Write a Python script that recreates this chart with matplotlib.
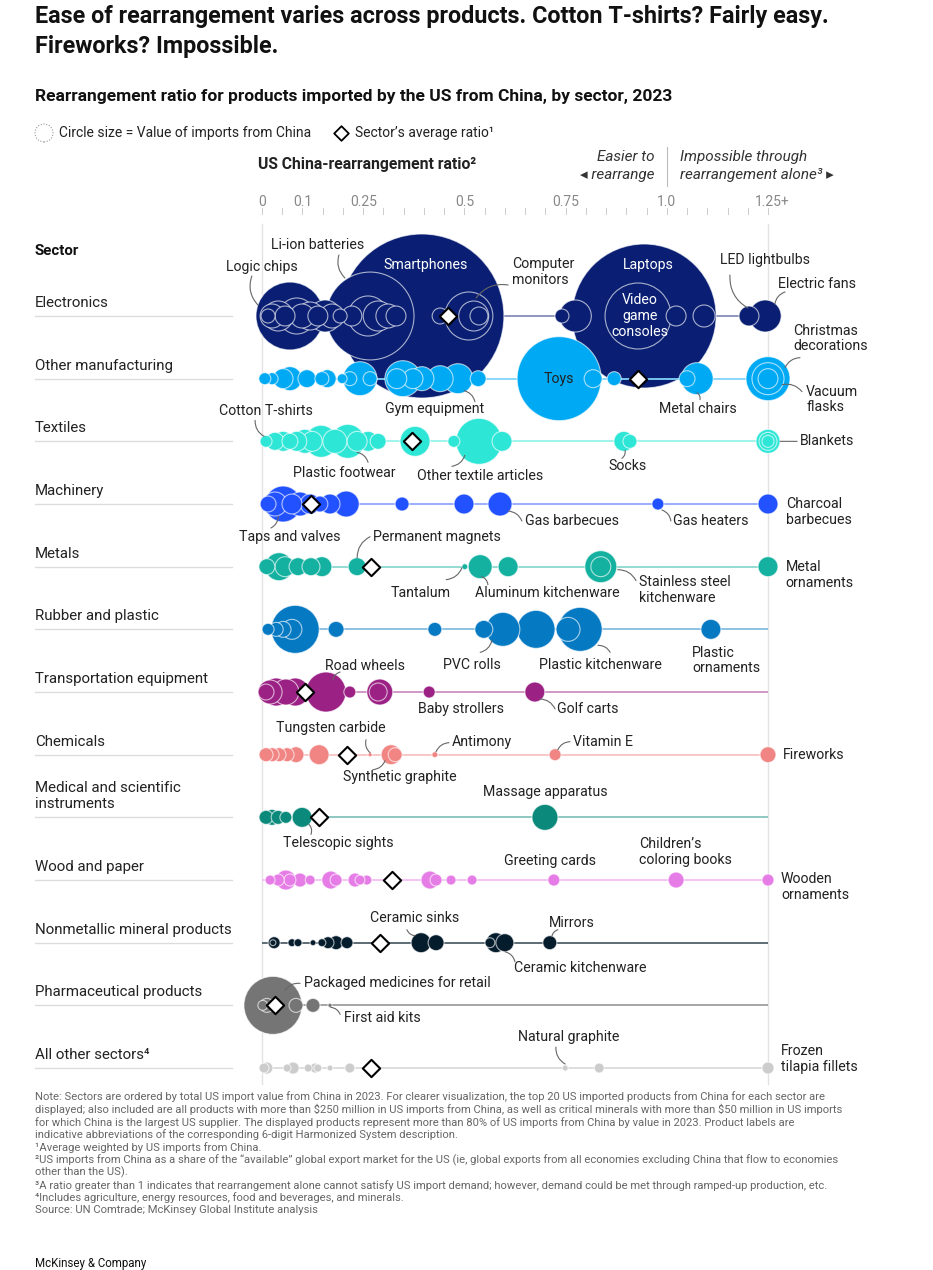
import numpy as np
import matplotlib.pyplot as plt
from matplotlib.colors import to_rgb

# ---- data -------------------------------------------------------------
sectors = ["Electronics", "Other manufacturing", "Textiles", "Machinery", "Metals",
           "Rubber and plastic", "Transportation equipment", "Chemicals",
           "Medical and scientific\ninstruments", "Wood and paper",
           "Nonmetallic mineral products", "Pharmaceutical products",
           "All other sectors⁴"]
colors = ["#0a1f73", "#00a9f4", "#2ee6d6", "#2251ff", "#14b1a0", "#0679c3",
          "#9b2184", "#f08583", "#0b8a7b", "#e67de6", "#051c2c", "#757575", "#cccccc"]

# rearrangement ratio of each product (capped at 1.25)
ratios = [
    [0.015, 0.025, 0.04, 0.057, 0.069, 0.086, 0.099, 0.119, 0.138, 0.156, 0.173, 0.193,
     0.222, 0.267, 0.262, 0.287, 0.311, 0.331, 0.395, 0.44, 0.511, 0.523, 0.536, 0.741,
     0.774, 0.944, 0.929, 1.023, 1.092, 1.203, 1.243],
    [0.007, 0.025, 0.052, 0.069, 0.111, 0.148, 0.161, 0.198, 0.217, 0.242, 0.267, 0.333,
     0.348, 0.373, 0.395, 0.44, 0.484, 0.534, 0.734, 0.818, 0.87, 1.05, 1.075, 1.25, 1.25, 1.25],
    [0.01, 0.032, 0.052, 0.069, 0.086, 0.106, 0.124, 0.146, 0.18, 0.212, 0.235, 0.262,
     0.287, 0.378, 0.474, 0.536, 0.593, 0.894, 0.909, 1.25, 1.25, 1.25],
    [0.015, 0.032, 0.052, 0.074, 0.094, 0.119, 0.143, 0.168, 0.208, 0.346, 0.499, 0.588,
     0.978, 1.25],
    [0.012, 0.042, 0.057, 0.089, 0.121, 0.148, 0.235, 0.501, 0.539, 0.608, 0.837, 0.837, 1.25],
    [0.015, 0.035, 0.052, 0.074, 0.082, 0.183, 0.427, 0.548, 0.595, 0.677, 0.756, 0.786, 1.109],
    [0.01, 0.02, 0.035, 0.059, 0.082, 0.158, 0.217, 0.291, 0.287, 0.413, 0.674],
    [0.01, 0.025, 0.042, 0.062, 0.084, 0.141, 0.267, 0.319, 0.329, 0.427, 0.724, 1.25],
    [0.01, 0.025, 0.04, 0.059, 0.099, 0.699],
    [0.02, 0.04, 0.059, 0.069, 0.094, 0.119, 0.17, 0.183, 0.23, 0.242, 0.259, 0.415, 0.43,
     0.467, 0.519, 0.721, 1.023, 1.25],
    [0.03, 0.027, 0.074, 0.089, 0.126, 0.148, 0.163, 0.183, 0.21, 0.393, 0.43, 0.578, 0.6,
     0.563, 0.711],
    [0.027, 0.002, 0.012, 0.084, 0.126, 0.168],
    [0.005, 0.012, 0.062, 0.077, 0.114, 0.131, 0.138, 0.168, 0.217, 0.749, 0.833, 1.25],
]
# US imports from China, $ billion
values = [
    [0.34, 1.0, 1.56, 0.69, 8.0, 2.25, 1.0, 1.36, 0.69, 1.78, 1.0, 0.34, 0.69, 13.4, 2.78,
     1.56, 1.0, 0.69, 46.7, 0.44, 4.0, 1.56, 0.56, 0.34, 1.78, 36.0, 7.56, 0.69, 0.84, 0.69, 1.78],
    [0.25, 0.25, 0.69, 1.0, 0.56, 0.34, 0.56, 0.17, 0.34, 2.0, 0.34, 0.69, 2.25, 0.69, 1.0,
     1.17, 1.56, 0.44, 12.25, 0.56, 0.34, 0.44, 1.78, 3.36, 1.78, 0.69],
    [0.25, 0.56, 0.69, 0.44, 0.69, 1.0, 0.69, 1.78, 1.0, 2.0, 0.69, 0.69, 0.44, 1.56, 0.25,
     3.67, 0.69, 0.69, 0.34, 1.0, 0.56, 0.25],
    [0.44, 1.0, 2.25, 0.69, 1.0, 0.69, 0.44, 0.69, 1.17, 0.34, 0.69, 1.0, 0.25, 0.69],
    [0.44, 1.36, 0.69, 0.56, 0.56, 0.69, 0.56, 0.06, 1.0, 0.69, 1.78, 0.69, 0.69],
    [0.25, 0.34, 0.44, 0.69, 4.0, 0.44, 0.34, 0.56, 2.0, 2.5, 1.0, 3.36, 0.69],
    [0.44, 1.0, 1.36, 1.17, 1.36, 2.78, 0.25, 1.17, 0.56, 0.25, 0.69],
    [0.34, 0.34, 0.34, 0.34, 0.44, 0.69, 0.03, 0.69, 0.34, 0.06, 0.25, 0.44],
    [0.34, 0.44, 0.34, 0.25, 0.69, 1.17],
    [0.17, 0.25, 0.69, 0.25, 0.34, 0.17, 0.56, 0.25, 0.34, 0.17, 0.17, 0.56, 0.25, 0.17,
     0.17, 0.25, 0.44, 0.25],
    [0.25, 0.06, 0.11, 0.11, 0.06, 0.11, 0.25, 0.34, 0.25, 0.69, 0.44, 0.69, 0.56, 0.17, 0.34],
    [5.84, 0.17, 0.34, 0.34, 0.34, 0.03],
    [0.17, 0.25, 0.11, 0.25, 0.11, 0.17, 0.11, 0.06, 0.17, 0.06, 0.17, 0.25],
]
# sector's weighted average ratio (None = not shown)
averages = [0.459, 0.929, 0.371, 0.121, 0.269, None, 0.106, 0.21, 0.141, 0.321, 0.291,
            0.032, 0.269]

tick_vals = [0, 0.1, 0.25, 0.5, 0.75, 1.0, 1.25]
tick_labels = ["0", "0.1", "0.25", "0.5", "0.75", "1.0", "1.25+"]

# label, sector, text x (ratio), text dy (px), ha, leader (x0, dy0, x1, dy1) or None, colour
labels = [
    ("Logic chips", 0, 0.0, -49, "center", (-0.025, -40, -0.01, -11), None),
    ("Li-ion batteries", 0, 0.138, -71, "center", (0.19, -61, 0.205, -38), None),
    ("Smartphones", 0, 0.403, -51, "center", None, "white"),
    ("Computer\nmonitors", 0, 0.618, -44, "left", (0.608, -31, 0.529, -18), None),
    ("Laptops", 0, 0.954, -51, "center", None, "white"),
    ("Video\ngame\nconsoles", 0, 0.934, 0, "center", None, "white"),
    ("LED lightbulbs", 0, 1.243, -56, "center", (1.156, -41, 1.2, -8), None),
    ("Electric fans", 0, 1.275, -32, "left", (1.292, -24, 1.267, -12), None),
    ("Christmas\ndecorations", 1, 1.312, -40, "left", (1.329, -21, 1.292, -11), None),
    ("Vacuum\nflasks", 1, 1.344, 21, "left", (1.334, 13, 1.285, 6), None),
    ("Toys", 1, 0.734, 0, "center", None, "#222222"),
    ("Metal chairs", 1, 1.077, 30, "center", (1.082, 21, 1.075, 14), None),
    ("Gym equipment", 1, 0.427, 30, "center", (0.526, 23, 0.499, 12), None),
    ("Cotton T-shirts", 2, 0.01, -30, "center", (-0.017, -21, 0.005, -5), None),
    ("Plastic footwear", 2, 0.203, 32, "center", (0.262, 21, 0.235, 11), None),
    ("Other textile articles", 2, 0.539, 35, "center", (0.469, 25, 0.501, 14), None),
    ("Socks", 2, 0.902, 25, "center", (0.889, 17, 0.897, 9), None),
    ("Blankets", 2, 1.329, 0, "left", (1.322, 0, 1.28, 0), None),
    ("Taps and valves", 3, 0.069, 33, "center", (0.022, 24, 0.04, 12), None),
    ("Gas barbecues", 3, 0.65, 17, "left", (0.642, 17, 0.608, 7), None),
    ("Gas heaters", 3, 1.015, 17, "left", (1.01, 17, 0.988, 6), None),
    ("Charcoal\nbarbecues", 3, 1.294, 8, "left", None, None),
    ("Permanent magnets", 4, 0.274, -30, "left", (0.267, -30, 0.235, -9), None),
    ("Tantalum", 4, 0.393, 26, "center", (0.455, 13, 0.494, 1), None),
    ("Aluminum kitchenware", 4, 0.704, 26, "center", (0.558, 18, 0.543, 10), None),
    ("Stainless steel\nkitchenware", 4, 0.931, 23, "left", (0.924, 14, 0.879, 3), None),
    ("Metal\nornaments", 4, 1.294, 8, "left", None, None),
    ("PVC rolls", 5, 0.519, 36, "center", (0.539, 23, 0.568, 11), None),
    ("Plastic kitchenware", 5, 0.837, 36, "center", (0.86, 23, 0.83, 16), None),
    ("Plastic\nornaments", 5, 1.062, 31, "left", None, None),
    ("Road wheels", 6, 0.254, -26, "center", (0.193, -20, 0.175, -12), None),
    ("Baby strollers", 6, 0.492, 17, "center", None, None),
    ("Golf carts", 6, 0.729, 17, "left", (0.724, 17, 0.687, 7), None),
    ("Tungsten carbide", 7, 0.17, -27, "center", (0.257, -15, 0.267, -2), None),
    ("Synthetic graphite", 7, 0.341, 22, "center", (0.274, 15, 0.304, 6), None),
    ("Antimony", 7, 0.469, -13, "left", (0.462, -12, 0.43, -3), None),
    ("Vitamin E", 7, 0.768, -13, "left", (0.761, -13, 0.731, -5), None),
    ("Fireworks", 7, 1.287, 0, "left", None, None),
    ("Massage apparatus", 8, 0.699, -25, "center", None, None),
    ("Telescopic sights", 8, 0.188, 26, "center", (0.121, 17, 0.116, 7), None),
    ("Greeting cards", 9, 0.711, -19, "center", None, None),
    ("Children’s\ncoloring books", 9, 0.931, -28, "left", None, None),
    ("Wooden\nornaments", 9, 1.282, 7, "left", None, None),
    ("Ceramic sinks", 10, 0.378, -25, "center", (0.358, -13, 0.378, -7), None),
    ("Ceramic kitchenware", 10, 0.786, 25, "center", (0.625, 19, 0.6, 9), None),
    ("Mirrors", 10, 0.766, -20, "center", (0.731, -13, 0.716, -6), None),
    ("Packaged medicines for retail", 11, 0.104, -22, "left", (0.094, -22, 0.057, -15), None),
    ("First aid kits", 11, 0.203, 13, "left", (0.193, 9, 0.17, 2), None),
    ("Natural graphite", 12, 0.758, -31, "center", (0.726, -21, 0.749, -4), None),
    ("Frozen\ntilapia fillets", 12, 1.282, -9, "left", None, None),
]

notes = [
    "Note: Sectors are ordered by total US import value from China in 2023. For clearer visualization, the top 20 US imported products from China for each sector are",
    "displayed; also included are all products with more than \\$250 million in US imports from China, as well as critical minerals with more than \\$50 million in US imports",
    "for which China is the largest US supplier. The displayed products represent more than 80% of US imports from China by value in 2023. Product labels are",
    "indicative abbreviations of the corresponding 6-digit Harmonized System description.",
    "¹Average weighted by US imports from China.",
    "²US imports from China as a share of the “available” global export market for the US (ie, global exports from all economies excluding China that flow to economies",
    "other than the US).",
    "³A ratio greater than 1 indicates that rearrangement alone cannot satisfy US import demand; however, demand could be met through ramped-up production, etc.",
    "⁴Includes agriculture, energy resources, food and beverages, and minerals.",
    "Source: UN Comtrade; McKinsey Global Institute analysis",
]

# ---- layout -----------------------------------------------------------
W, H = 933, 1270
X0, PXU = 262, 404.8          # pixel of ratio 0, pixels per unit ratio
ROW0, ROWSTEP = 316, 62.67
TXT = "#222222"

plt.rcParams["font.family"] = ["Roboto", "DejaVu Sans"]
fig = plt.figure(figsize=(W / 100, H / 100), dpi=100)
ax = fig.add_axes([0, 0, 1, 1])
ax.set_xlim(-X0 / PXU, (W - X0) / PXU)
ax.set_ylim(H, 0)
ax.axis("off")


def fx(px):
    return px / W


def fy(py):
    return 1 - py / H


def lighten(c, f):
    r = np.array(to_rgb(c))
    return tuple(r * (1 - f) + f)


row_y = [ROW0 + i * ROWSTEP for i in range(len(sectors))]
LEFT = -(X0 - 35) / PXU

# titles
fig.text(fx(35), fy(17), "Ease of rearrangement varies across products. Cotton T-shirts? Fairly easy.",
         fontsize=16.8, fontweight="bold", color="#111111", va="center")
fig.text(fx(35), fy(46), "Fireworks? Impossible.",
         fontsize=16.8, fontweight="bold", color="#111111", va="center")
fig.text(fx(35), fy(96), "Rearrangement ratio for products imported by the US from China, by sector, 2023",
         fontsize=12.5, fontweight="bold", color="#111111", va="center")

# legend
ax.scatter([(44 - X0) / PXU], [133], s=(18 * 0.72) ** 2, facecolors="none",
           edgecolors="#999999", linestyles=(0, (1, 1.5)), linewidths=0.8)
fig.text(fx(59), fy(133), "Circle size = Value of imports from China", fontsize=10,
         color=TXT, va="center")
ax.scatter([(341 - X0) / PXU], [133], marker="D", s=55, facecolors="white",
           edgecolors="black", linewidths=1.3)
fig.text(fx(355), fy(133), "Sector’s average ratio¹", fontsize=10, color=TXT, va="center")

# axis header
fig.text(fx(258), fy(165), "US China-rearrangement ratio²", fontsize=11.3, fontweight="bold",
         color=TXT, va="center")
ax.text(0.97, 157, "Easier to", ha="right", va="center", fontsize=11, style="italic",
        color="#333333")
ax.text(0.97, 175, "◂ rearrange", ha="right", va="center", fontsize=11, style="italic",
        color="#333333")
ax.plot([1.0, 1.0], [147, 186], color="#bbbbbb", lw=0.8)
ax.text(1.032, 157, "Impossible through", ha="left", va="center", fontsize=11, style="italic",
        color="#333333")
ax.text(1.032, 175, "rearrangement alone³ ▸", ha="left", va="center", fontsize=11,
        style="italic", color="#333333")

# ticks
for v, lab in zip(tick_vals, tick_labels):
    ax.text(v + (0.01 if lab.endswith("+") else 0), 202, lab, ha="center", va="center",
            fontsize=10, color="#888888")
for v in np.arange(0, 1.2501, 0.05):
    ax.plot([v, v], [208, 214], color="#cccccc", lw=0.7)
for v in (0, 1.25):
    ax.plot([v, v], [224, 1084], color="#e2e2e2", lw=1, zorder=0)

ax.text(LEFT, 251, "Sector", fontsize=10.8, fontweight="bold", color="#111111", va="center")

# rows
for i, name in enumerate(sectors):
    y = row_y[i]
    z = 2 + i * 3
    col = colors[i]
    ax.text(LEFT, y - 6, name, fontsize=10.8, color=TXT, va="bottom", linespacing=1.2)
    ax.plot([LEFT, (232 - X0) / PXU], [y, y], color="#dddddd", lw=1)
    line_col = lighten(col, 0.5) if i < 10 else lighten(col, 0.3)
    ax.plot([0, 1.25], [y, y], color=line_col, lw=1.3, zorder=z, solid_capstyle="butt")
    r = np.array(ratios[i])
    v = np.array(values[i])
    order = np.argsort(-v)
    rad = 12 * np.sqrt(v[order])
    ax.scatter(r[order], np.full(len(r), y), s=(2 * rad * 0.72) ** 2, color=col,
               edgecolors=(1, 1, 1, 0.65), linewidths=0.8, zorder=z + 1)
    if averages[i] is not None:
        ax.scatter([averages[i]], [y], marker="D", s=78, facecolors="white",
                   edgecolors="black", linewidths=1.5, zorder=z + 2)

# product labels and leader lines
for lab, si, tx, dy, ha, lead, tc in labels:
    y = row_y[si]
    ax.text(tx, y + dy, lab, ha=ha, va="center", fontsize=10.2, color=tc if tc else TXT,
            linespacing=1.15, zorder=60)
    if lead is not None:
        x0, d0, x1, d1 = lead
        rad = 0.0 if lab == "Blankets" else 0.3
        ax.annotate("", xy=(x1, y + d1), xytext=(x0, y + d0), zorder=59,
                    arrowprops=dict(arrowstyle="-", color="#666666", lw=0.8,
                                    shrinkA=0, shrinkB=0,
                                    connectionstyle=f"arc3,rad={rad}"))

# notes
for k, line in enumerate(notes):
    fig.text(fx(35), fy(1097 + k * 12.6), line, fontsize=8.1, color="#666666", va="center")
fig.text(fx(35), fy(1263), "McKinsey & Company", fontsize=8.3, color="#111111", va="center")

fig.savefig("out.png", dpi=100)
